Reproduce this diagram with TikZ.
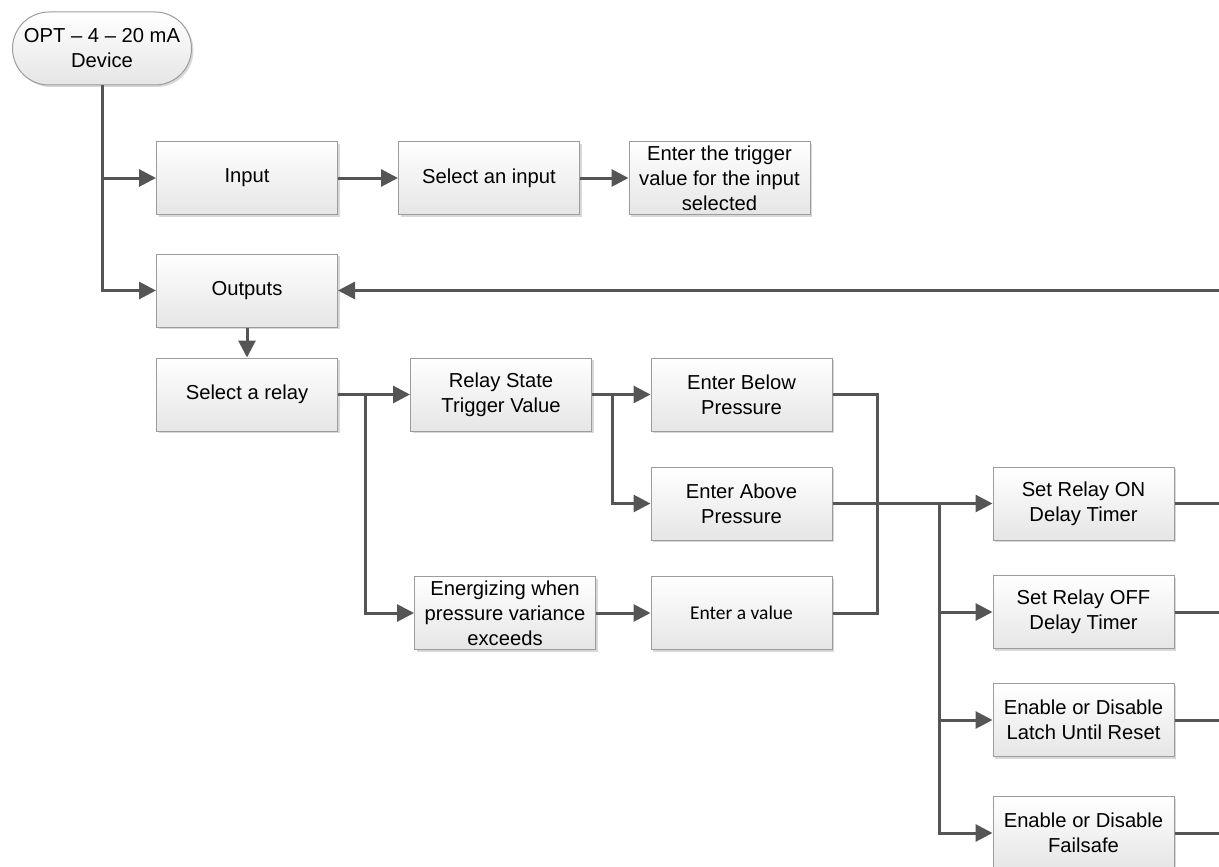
\documentclass[tikz,border=0pt]{standalone}
\usepackage{fontspec}
\setmainfont{Liberation Sans}
\newfontfamily\valfont{Carlito}
\usetikzlibrary{arrows.meta,shapes.misc,shadows}
\definecolor{linegray}{HTML}{555555}
\definecolor{boxedge}{HTML}{9C9C9C}

\begin{document}
\begin{tikzpicture}[
  x=1pt, y=-1pt,
  every node/.style={font=\fontsize{20.2}{25}\selectfont},
  box/.style={draw=boxedge, line width=1pt, top color=white, bottom color=black!10,
    minimum width=181pt, minimum height=73pt, inner sep=1pt, align=center,
    drop shadow={shadow xshift=2pt, shadow yshift=-2pt, fill=black!30, opacity=0.5}},
  term/.style={box, rounded rectangle},
  link/.style={draw=linegray, line width=3pt},
  arr/.style={link, -{Triangle[length=17pt,width=17pt]}}
]
\useasboundingbox (0,0) rectangle (1219,867);
\coordinate (rim) at (1219,0);

% input branch
\node[term] (dev) at (102,48.5) {OPT -- 4 -- 20 mA\\Device};
\node[box] (inp) at (247,178) {Input};
\node[box] (pick) at (489,178) {Select an input};
\node[box] (trig) at (719.5,178) {Enter the trigger\\value for the input\\selected};

% output branch
\node[box] (outp) at (247,290.5) {Outputs};
\node[box] (relay) at (247,394.5) {Select a relay};
\node[box] (state) at (501,394.5) {Relay State\\Trigger Value};
\node[box] (below) at (741.5,394.5) {Enter Below\\Pressure};
\node[box] (above) at (741.5,503.5) {Enter Above\\Pressure};
\node[box] (ener) at (505,613) {Energizing when\\pressure variance\\exceeds};
\node[box, font=\valfont\fontsize{19.5}{24}\selectfont] (val) at (741.5,613) {Enter a value};
\node[box] (on) at (1083.5,503.5) {Set Relay ON\\Delay Timer};
\node[box] (off) at (1083.5,612) {Set Relay OFF\\Delay Timer};
\node[box] (latch) at (1083.5,720) {Enable or Disable\\Latch Until Reset};
\node[box] (fail) at (1083.5,833) {Enable or Disable\\Failsafe};

\draw[arr] (dev) |- (inp);
\draw[arr] (dev) |- (outp);
\draw[arr] (inp) -- (pick);
\draw[arr] (pick) -- (trig);
\draw[arr] (outp.east -| rim) -- (outp);
\draw[arr] (outp) -- (relay);
\draw[arr] (relay) -- (state);
\draw[arr] (relay.east) -- ++(27,0) |- (ener);
\draw[arr] (state) -- (below);
\draw[arr] (state.east) -- ++(20,0) |- (above);
\draw[arr] (ener) -- (val);
\draw[link] (below.east) -- ++(45,0) |- (val.east);
\draw[arr] (above) -- (on);
\foreach \n in {off,latch,fail}
  \draw[arr] (above.east) -- ++(107,0) |- (\n);
% loose ends leave the page
\foreach \n in {on,off,latch,fail}
  \draw[link] (\n.east) -- (\n.east -| rim);
\end{tikzpicture}
\end{document}
